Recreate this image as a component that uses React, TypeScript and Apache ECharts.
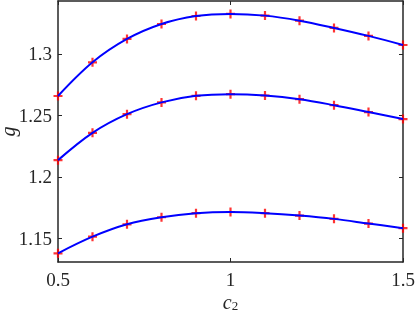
import React, { useEffect, useRef } from "react";
import * as echarts from "echarts";

const xValues = [0.5, 0.6, 0.7, 0.8, 0.9, 1.0, 1.1, 1.2, 1.3, 1.4, 1.5];
const upperG = [1.2658, 1.2932, 1.3122, 1.3244, 1.3309, 1.3326, 1.3312, 1.3271, 1.3212, 1.3147, 1.3073];
const middleG = [1.2136, 1.2358, 1.2510, 1.2606, 1.2659, 1.2673, 1.2662, 1.2632, 1.2583, 1.2527, 1.2470];
const lowerG = [1.1378, 1.1513, 1.1614, 1.1671, 1.1704, 1.1714, 1.1704, 1.1685, 1.1658, 1.1620, 1.1582];
const yTickValues = [1.15, 1.2, 1.25, 1.3];
const xTickValues = [0.5, 1, 1.5];

const FONT = "'Liberation Serif', 'DejaVu Serif', serif";
const AXIS_COLOR = "#262626";

export default function App() {
  const ref = useRef<HTMLDivElement>(null);
  useEffect(() => {
    if (!ref.current) return;
    const chart = echarts.init(ref.current, null, { renderer: "svg" });
    const seriesList = [upperG, middleG, lowerG];
    const pairs = (ys: number[]) => xValues.map((x, i) => [x, ys[i]]);
    const markerSeries = seriesList.map((ys) => ({
      type: "scatter",
      data: pairs(ys),
      symbol: "path://M5,0 L5,10 M0,5 L10,5",
      symbolSize: 9,
      itemStyle: { color: "rgba(0,0,0,0)", borderColor: "#ff0000", borderWidth: 2.2 },
      z: 2,
    }));
    const lineSeries = seriesList.map((ys) => ({
      type: "line",
      data: pairs(ys),
      smooth: 0.35,
      showSymbol: false,
      lineStyle: { color: "#0000ff", width: 2 },
      z: 3,
    }));
    const axisLine = { show: true, lineStyle: { color: AXIS_COLOR, width: 1.5 } };
    chart.setOption({
      animation: false,
      grid: { left: 58, right: 12, top: 1, bottom: 50, outerBoundsMode: "none", containLabel: false },
      xAxis: [
        {
          type: "value",
          min: 0.5,
          max: 1.5,
          interval: 0.5,
          axisLine,
          axisTick: { show: true, inside: true, length: 4, lineStyle: { color: AXIS_COLOR } },
          splitLine: { show: false },
          axisLabel: {
            customValues: xTickValues,
            color: AXIS_COLOR,
            fontFamily: FONT,
            fontSize: 19,
            margin: 8,
          },
          name: "{a|c}{b|2}",
          nameLocation: "middle",
          nameGap: 30,
          nameMoveOverlap: false,
          nameTextStyle: {
            rich: {
              a: { fontFamily: FONT, fontStyle: "italic", fontSize: 20, color: AXIS_COLOR, lineHeight: 20, verticalAlign: "top" },
              b: { fontFamily: FONT, fontSize: 13, color: AXIS_COLOR, lineHeight: 14, padding: [7, 0, 0, 0], verticalAlign: "bottom" },
            },
          },
        },
        {
          type: "value",
          position: "top",
          min: 0.5,
          max: 1.5,
          interval: 0.5,
          axisLine,
          axisTick: { show: true, inside: true, length: 4, lineStyle: { color: AXIS_COLOR } },
          axisLabel: { show: false },
          splitLine: { show: false },
        },
      ],
      yAxis: [
        {
          type: "value",
          min: 1.1307,
          max: 1.3431,
          axisLine,
          axisTick: { show: true, inside: true, length: 4, customValues: yTickValues, lineStyle: { color: AXIS_COLOR } },
          splitLine: { show: false },
          axisLabel: {
            customValues: yTickValues,
            color: AXIS_COLOR,
            fontFamily: FONT,
            fontSize: 19,
            margin: 6,
          },
          name: "g",
          nameLocation: "middle",
          nameGap: 42,
          nameRotate: 90,
          nameMoveOverlap: false,
          nameTextStyle: { fontFamily: FONT, fontStyle: "italic", fontSize: 20, lineHeight: 16, color: AXIS_COLOR },
        },
        {
          type: "value",
          position: "right",
          min: 1.1307,
          max: 1.3431,
          axisLine,
          axisTick: { show: true, inside: true, length: 4, customValues: yTickValues, lineStyle: { color: AXIS_COLOR } },
          axisLabel: { show: false },
          splitLine: { show: false },
        },
      ],
      series: [...markerSeries, ...lineSeries],
    });
    return () => chart.dispose();
  }, []);
  return <div ref={ref} style={{ position: "fixed", left: 0, top: 0, width: 415, height: 312 }} />;
}
